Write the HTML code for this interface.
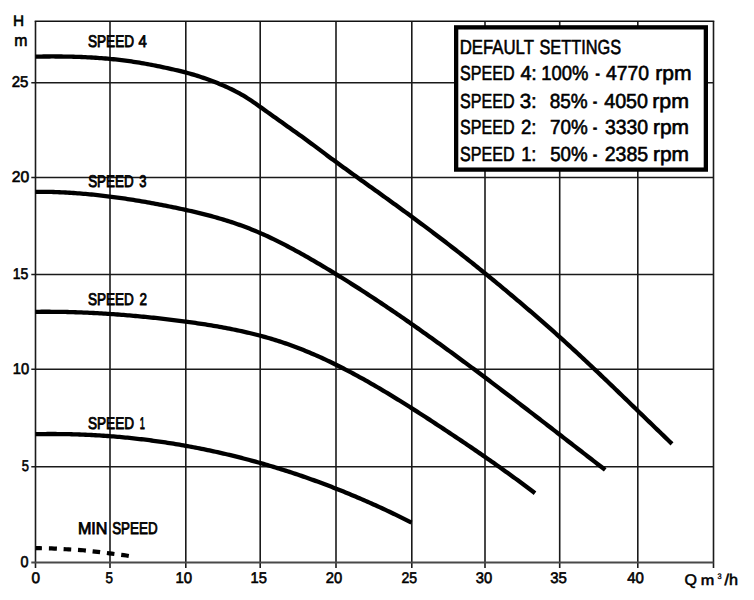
<!DOCTYPE html>
<html><head><meta charset="utf-8"><style>
html,body{margin:0;padding:0;background:#fff;}
svg{display:block;}
text{font-family:"Liberation Sans", sans-serif;fill:#000;stroke:#000;text-rendering:geometricPrecision;}
</style></head><body>
<svg width="754" height="600" viewBox="0 0 754 600">
<rect width="754" height="600" fill="#fff"/>
<line x1="35.50" y1="21.20" x2="35.50" y2="568" stroke="#1a1a1a" stroke-width="1.60"/>
<line x1="110.00" y1="21.20" x2="110.00" y2="568" stroke="#1a1a1a" stroke-width="1.60"/>
<line x1="185.80" y1="21.20" x2="185.80" y2="568" stroke="#1a1a1a" stroke-width="1.60"/>
<line x1="260.20" y1="21.20" x2="260.20" y2="568" stroke="#1a1a1a" stroke-width="1.60"/>
<line x1="336.00" y1="21.20" x2="336.00" y2="568" stroke="#1a1a1a" stroke-width="1.60"/>
<line x1="411.80" y1="21.20" x2="411.80" y2="568" stroke="#1a1a1a" stroke-width="1.60"/>
<line x1="485.00" y1="21.20" x2="485.00" y2="568" stroke="#1a1a1a" stroke-width="1.60"/>
<line x1="559.70" y1="21.20" x2="559.70" y2="568" stroke="#1a1a1a" stroke-width="1.60"/>
<line x1="637.80" y1="21.20" x2="637.80" y2="568" stroke="#1a1a1a" stroke-width="1.60"/>
<line x1="713.50" y1="21.20" x2="713.50" y2="568" stroke="#1a1a1a" stroke-width="1.60"/>
<line x1="31.3" y1="82.70" x2="713.5" y2="82.70" stroke="#1a1a1a" stroke-width="1.6"/>
<line x1="31.3" y1="177.50" x2="713.5" y2="177.50" stroke="#1a1a1a" stroke-width="1.6"/>
<line x1="31.3" y1="274.50" x2="713.5" y2="274.50" stroke="#1a1a1a" stroke-width="1.6"/>
<line x1="31.3" y1="369.30" x2="713.5" y2="369.30" stroke="#1a1a1a" stroke-width="1.6"/>
<line x1="31.3" y1="466.80" x2="713.5" y2="466.80" stroke="#1a1a1a" stroke-width="1.6"/>
<line x1="34.7" y1="21.20" x2="714.3" y2="21.20" stroke="#111" stroke-width="1.6"/>
<line x1="31.3" y1="562.50" x2="713.5" y2="562.50" stroke="#484848" stroke-width="2.1"/>
<path d="M35.50,56.62 L37.50,56.59 L39.50,56.56 L41.50,56.54 L43.50,56.52 L45.50,56.50 L47.50,56.49 L49.50,56.48 L51.50,56.47 L53.50,56.47 L55.50,56.48 L57.50,56.49 L59.50,56.50 L61.50,56.52 L63.50,56.54 L65.50,56.57 L67.50,56.61 L69.50,56.65 L71.50,56.69 L73.50,56.74 L75.50,56.80 L77.50,56.87 L79.50,56.94 L81.50,57.01 L83.50,57.10 L85.50,57.19 L87.50,57.28 L89.50,57.39 L91.50,57.50 L93.50,57.62 L95.50,57.74 L97.50,57.88 L99.50,58.02 L101.50,58.17 L103.50,58.32 L105.50,58.49 L107.50,58.66 L109.50,58.85 L111.50,59.04 L113.50,59.24 L115.50,59.45 L117.50,59.67 L119.50,59.89 L121.50,60.13 L123.50,60.38 L125.50,60.63 L127.50,60.90 L129.50,61.18 L131.50,61.46 L133.50,61.76 L135.50,62.07 L137.50,62.39 L139.50,62.71 L141.50,63.05 L143.50,63.40 L145.50,63.75 L147.50,64.12 L149.50,64.49 L151.50,64.87 L153.50,65.26 L155.50,65.65 L157.50,66.06 L159.50,66.47 L161.50,66.88 L163.50,67.30 L165.50,67.73 L167.50,68.16 L169.50,68.60 L171.50,69.05 L173.50,69.50 L175.50,69.97 L177.50,70.44 L179.50,70.92 L181.50,71.42 L183.50,71.92 L185.50,72.44 L187.50,72.98 L189.50,73.53 L191.50,74.09 L193.50,74.67 L195.50,75.27 L197.50,75.89 L199.50,76.53 L201.50,77.18 L203.50,77.85 L205.50,78.55 L207.50,79.26 L209.50,79.98 L211.50,80.73 L213.50,81.50 L215.50,82.29 L217.50,83.09 L219.50,83.92 L221.50,84.76 L223.50,85.63 L225.50,86.51 L227.50,87.41 L229.50,88.34 L231.50,89.30 L233.50,90.28 L235.50,91.30 L237.50,92.34 L239.50,93.43 L241.50,94.56 L243.50,95.73 L245.50,96.94 L247.50,98.20 L249.50,99.50 L251.50,100.83 L253.50,102.19 L255.50,103.57 L257.50,104.97 L259.50,106.39 L261.50,107.82 L263.50,109.26 L265.50,110.69 L267.50,112.13 L269.50,113.56 L271.50,114.98 L273.50,116.41 L275.50,117.84 L277.50,119.26 L279.50,120.68 L281.50,122.11 L283.50,123.53 L285.50,124.95 L287.50,126.38 L289.50,127.80 L291.50,129.23 L293.50,130.65 L295.50,132.08 L297.50,133.51 L299.50,134.94 L301.50,136.37 L303.50,137.80 L305.50,139.24 L307.50,140.70 L309.50,142.17 L311.50,143.65 L313.50,145.14 L315.50,146.63 L317.50,148.13 L319.50,149.63 L321.50,151.14 L323.50,152.65 L325.50,154.15 L327.50,155.66 L329.50,157.17 L331.50,158.65 L333.50,160.11 L335.50,161.58 L337.50,163.04 L339.50,164.49 L341.50,165.95 L343.50,167.40 L345.50,168.85 L347.50,170.30 L349.50,171.74 L351.50,173.19 L353.50,174.63 L355.50,176.07 L357.50,177.51 L359.50,178.95 L361.50,180.39 L363.50,181.82 L365.50,183.26 L367.50,184.70 L369.50,186.13 L371.50,187.57 L373.50,189.00 L375.50,190.44 L377.50,191.87 L379.50,193.31 L381.50,194.75 L383.50,196.19 L385.50,197.63 L387.50,199.07 L389.50,200.51 L391.50,201.95 L393.50,203.40 L395.50,204.85 L397.50,206.29 L399.50,207.75 L401.50,209.20 L403.50,210.66 L405.50,212.12 L407.50,213.58 L409.50,215.04 L411.50,216.51 L413.50,217.99 L415.50,219.46 L417.50,220.94 L419.50,222.42 L421.50,223.91 L423.50,225.40 L425.50,226.89 L427.50,228.39 L429.50,229.89 L431.50,231.40 L433.50,232.91 L435.50,234.42 L437.50,235.94 L439.50,237.46 L441.50,238.99 L443.50,240.52 L445.50,242.05 L447.50,243.59 L449.50,245.14 L451.50,246.68 L453.50,248.24 L455.50,249.79 L457.50,251.35 L459.50,252.92 L461.50,254.49 L463.50,256.07 L465.50,257.65 L467.50,259.23 L469.50,260.82 L471.50,262.41 L473.50,264.01 L475.50,265.62 L477.50,267.23 L479.50,268.84 L481.50,270.46 L483.50,272.08 L485.50,273.71 L487.50,275.34 L489.50,276.98 L491.50,278.62 L493.50,280.26 L495.50,281.91 L497.50,283.56 L499.50,285.22 L501.50,286.87 L503.50,288.54 L505.50,290.21 L507.50,291.88 L509.50,293.55 L511.50,295.23 L513.50,296.91 L515.50,298.59 L517.50,300.28 L519.50,301.97 L521.50,303.67 L523.50,305.37 L525.50,307.08 L527.50,308.78 L529.50,310.50 L531.50,312.22 L533.50,313.94 L535.50,315.67 L537.50,317.40 L539.50,319.14 L541.50,320.88 L543.50,322.63 L545.50,324.38 L547.50,326.14 L549.50,327.91 L551.50,329.68 L553.50,331.46 L555.50,333.24 L557.50,335.03 L559.50,336.83 L561.50,338.63 L563.50,340.44 L565.50,342.25 L567.50,344.07 L569.50,345.90 L571.50,347.73 L573.50,349.57 L575.50,351.42 L577.50,353.27 L579.50,355.12 L581.50,356.98 L583.50,358.85 L585.50,360.72 L587.50,362.59 L589.50,364.47 L591.50,366.35 L593.50,368.24 L595.50,370.13 L597.50,372.03 L599.50,373.92 L601.50,375.83 L603.50,377.73 L605.50,379.64 L607.50,381.55 L609.50,383.47 L611.50,385.39 L613.50,387.31 L615.50,389.23 L617.50,391.16 L619.50,393.09 L621.50,395.02 L623.50,396.95 L625.50,398.88 L627.50,400.82 L629.50,402.75 L631.50,404.69 L633.50,406.63 L635.50,408.56 L637.50,410.50 L639.50,412.44 L641.50,414.38 L643.50,416.32 L645.50,418.26 L647.50,420.20 L649.50,422.13 L651.50,424.07 L653.50,426.01 L655.50,427.94 L657.50,429.88 L659.50,431.81 L661.50,433.74 L663.50,435.67 L665.50,437.59 L667.50,439.52 L669.50,441.44 L671.50,443.36 L672.00,443.84" fill="none" stroke="#000" stroke-width="4.3" stroke-linecap="butt" stroke-linejoin="round"/>
<path d="M35.50,191.78 L37.50,191.78 L39.50,191.78 L41.50,191.79 L43.50,191.81 L45.50,191.83 L47.50,191.87 L49.50,191.91 L51.50,191.96 L53.50,192.02 L55.50,192.08 L57.50,192.16 L59.50,192.24 L61.50,192.32 L63.50,192.42 L65.50,192.52 L67.50,192.63 L69.50,192.75 L71.50,192.87 L73.50,193.01 L75.50,193.14 L77.50,193.29 L79.50,193.44 L81.50,193.60 L83.50,193.77 L85.50,193.94 L87.50,194.12 L89.50,194.31 L91.50,194.50 L93.50,194.70 L95.50,194.91 L97.50,195.12 L99.50,195.34 L101.50,195.56 L103.50,195.79 L105.50,196.03 L107.50,196.27 L109.50,196.52 L111.50,196.78 L113.50,197.04 L115.50,197.30 L117.50,197.58 L119.50,197.86 L121.50,198.14 L123.50,198.43 L125.50,198.72 L127.50,199.03 L129.50,199.33 L131.50,199.64 L133.50,199.96 L135.50,200.28 L137.50,200.61 L139.50,200.94 L141.50,201.28 L143.50,201.62 L145.50,201.97 L147.50,202.32 L149.50,202.68 L151.50,203.04 L153.50,203.41 L155.50,203.78 L157.50,204.15 L159.50,204.53 L161.50,204.92 L163.50,205.31 L165.50,205.70 L167.50,206.10 L169.50,206.50 L171.50,206.91 L173.50,207.32 L175.50,207.73 L177.50,208.15 L179.50,208.57 L181.50,209.00 L183.50,209.43 L185.50,209.87 L187.50,210.32 L189.50,210.77 L191.50,211.22 L193.50,211.69 L195.50,212.16 L197.50,212.63 L199.50,213.12 L201.50,213.61 L203.50,214.11 L205.50,214.62 L207.50,215.14 L209.50,215.66 L211.50,216.20 L213.50,216.75 L215.50,217.30 L217.50,217.87 L219.50,218.45 L221.50,219.04 L223.50,219.64 L225.50,220.25 L227.50,220.87 L229.50,221.51 L231.50,222.16 L233.50,222.82 L235.50,223.49 L237.50,224.18 L239.50,224.88 L241.50,225.60 L243.50,226.33 L245.50,227.08 L247.50,227.84 L249.50,228.61 L251.50,229.40 L253.50,230.21 L255.50,231.04 L257.50,231.88 L259.50,232.73 L261.50,233.61 L263.50,234.49 L265.50,235.40 L267.50,236.31 L269.50,237.25 L271.50,238.19 L273.50,239.15 L275.50,240.13 L277.50,241.11 L279.50,242.11 L281.50,243.12 L283.50,244.15 L285.50,245.18 L287.50,246.23 L289.50,247.28 L291.50,248.35 L293.50,249.43 L295.50,250.52 L297.50,251.61 L299.50,252.72 L301.50,253.83 L303.50,254.96 L305.50,256.09 L307.50,257.23 L309.50,258.38 L311.50,259.53 L313.50,260.69 L315.50,261.86 L317.50,263.03 L319.50,264.21 L321.50,265.39 L323.50,266.58 L325.50,267.78 L327.50,268.98 L329.50,270.18 L331.50,271.40 L333.50,272.62 L335.50,273.84 L337.50,275.07 L339.50,276.30 L341.50,277.54 L343.50,278.79 L345.50,280.04 L347.50,281.29 L349.50,282.55 L351.50,283.82 L353.50,285.09 L355.50,286.36 L357.50,287.64 L359.50,288.93 L361.50,290.22 L363.50,291.51 L365.50,292.81 L367.50,294.12 L369.50,295.43 L371.50,296.74 L373.50,298.06 L375.50,299.38 L377.50,300.71 L379.50,302.04 L381.50,303.38 L383.50,304.72 L385.50,306.06 L387.50,307.41 L389.50,308.77 L391.50,310.12 L393.50,311.48 L395.50,312.85 L397.50,314.22 L399.50,315.59 L401.50,316.97 L403.50,318.35 L405.50,319.74 L407.50,321.13 L409.50,322.52 L411.50,323.92 L413.50,325.32 L415.50,326.73 L417.50,328.13 L419.50,329.55 L421.50,330.96 L423.50,332.38 L425.50,333.80 L427.50,335.23 L429.50,336.66 L431.50,338.09 L433.50,339.52 L435.50,340.96 L437.50,342.40 L439.50,343.85 L441.50,345.30 L443.50,346.75 L445.50,348.20 L447.50,349.66 L449.50,351.12 L451.50,352.58 L453.50,354.04 L455.50,355.51 L457.50,356.98 L459.50,358.46 L461.50,359.93 L463.50,361.41 L465.50,362.89 L467.50,364.37 L469.50,365.86 L471.50,367.35 L473.50,368.84 L475.50,370.33 L477.50,371.83 L479.50,373.32 L481.50,374.82 L483.50,376.32 L485.50,377.83 L487.50,379.33 L489.50,380.84 L491.50,382.35 L493.50,383.86 L495.50,385.38 L497.50,386.89 L499.50,388.41 L501.50,389.93 L503.50,391.45 L505.50,392.97 L507.50,394.49 L509.50,396.02 L511.50,397.54 L513.50,399.07 L515.50,400.60 L517.50,402.13 L519.50,403.66 L521.50,405.20 L523.50,406.73 L525.50,408.26 L527.50,409.80 L529.50,411.34 L531.50,412.88 L533.50,414.42 L535.50,415.96 L537.50,417.50 L539.50,419.04 L541.50,420.58 L543.50,422.13 L545.50,423.67 L547.50,425.22 L549.50,426.76 L551.50,428.31 L553.50,429.86 L555.50,431.40 L557.50,432.95 L559.50,434.50 L561.50,436.05 L563.50,437.60 L565.50,439.15 L567.50,440.70 L569.50,442.25 L571.50,443.80 L573.50,445.35 L575.50,446.90 L577.50,448.45 L579.50,450.00 L581.50,451.54 L583.50,453.09 L585.50,454.64 L587.50,456.19 L589.50,457.74 L591.50,459.29 L593.50,460.84 L595.50,462.39 L597.50,463.93 L599.50,465.48 L601.50,467.03 L603.50,468.57 L605.20,469.88" fill="none" stroke="#000" stroke-width="4.3" stroke-linecap="butt" stroke-linejoin="round"/>
<path d="M35.50,311.83 L37.50,311.80 L39.50,311.79 L41.50,311.77 L43.50,311.76 L45.50,311.76 L47.50,311.76 L49.50,311.77 L51.50,311.78 L53.50,311.79 L55.50,311.81 L57.50,311.83 L59.50,311.86 L61.50,311.89 L63.50,311.93 L65.50,311.97 L67.50,312.01 L69.50,312.06 L71.50,312.12 L73.50,312.18 L75.50,312.24 L77.50,312.31 L79.50,312.38 L81.50,312.45 L83.50,312.53 L85.50,312.61 L87.50,312.70 L89.50,312.79 L91.50,312.89 L93.50,312.99 L95.50,313.09 L97.50,313.20 L99.50,313.31 L101.50,313.43 L103.50,313.55 L105.50,313.67 L107.50,313.80 L109.50,313.93 L111.50,314.07 L113.50,314.21 L115.50,314.35 L117.50,314.50 L119.50,314.65 L121.50,314.80 L123.50,314.96 L125.50,315.12 L127.50,315.29 L129.50,315.46 L131.50,315.63 L133.50,315.81 L135.50,315.99 L137.50,316.17 L139.50,316.36 L141.50,316.55 L143.50,316.74 L145.50,316.94 L147.50,317.14 L149.50,317.34 L151.50,317.55 L153.50,317.76 L155.50,317.98 L157.50,318.20 L159.50,318.42 L161.50,318.64 L163.50,318.87 L165.50,319.10 L167.50,319.33 L169.50,319.57 L171.50,319.81 L173.50,320.05 L175.50,320.30 L177.50,320.55 L179.50,320.80 L181.50,321.06 L183.50,321.32 L185.50,321.59 L187.50,321.85 L189.50,322.13 L191.50,322.40 L193.50,322.69 L195.50,322.97 L197.50,323.26 L199.50,323.56 L201.50,323.86 L203.50,324.17 L205.50,324.48 L207.50,324.80 L209.50,325.12 L211.50,325.45 L213.50,325.78 L215.50,326.13 L217.50,326.47 L219.50,326.83 L221.50,327.19 L223.50,327.55 L225.50,327.93 L227.50,328.31 L229.50,328.70 L231.50,329.09 L233.50,329.50 L235.50,329.91 L237.50,330.33 L239.50,330.75 L241.50,331.19 L243.50,331.63 L245.50,332.08 L247.50,332.54 L249.50,333.01 L251.50,333.49 L253.50,333.98 L255.50,334.48 L257.50,334.99 L259.50,335.51 L261.50,336.04 L263.50,336.58 L265.50,337.13 L267.50,337.70 L269.50,338.28 L271.50,338.87 L273.50,339.47 L275.50,340.09 L277.50,340.72 L279.50,341.36 L281.50,342.02 L283.50,342.69 L285.50,343.37 L287.50,344.06 L289.50,344.77 L291.50,345.49 L293.50,346.22 L295.50,346.97 L297.50,347.73 L299.50,348.50 L301.50,349.29 L303.50,350.08 L305.50,350.89 L307.50,351.72 L309.50,352.55 L311.50,353.40 L313.50,354.26 L315.50,355.13 L317.50,356.01 L319.50,356.91 L321.50,357.81 L323.50,358.73 L325.50,359.66 L327.50,360.60 L329.50,361.55 L331.50,362.51 L333.50,363.49 L335.50,364.47 L337.50,365.46 L339.50,366.47 L341.50,367.48 L343.50,368.50 L345.50,369.54 L347.50,370.58 L349.50,371.63 L351.50,372.69 L353.50,373.76 L355.50,374.84 L357.50,375.93 L359.50,377.02 L361.50,378.13 L363.50,379.24 L365.50,380.36 L367.50,381.49 L369.50,382.63 L371.50,383.78 L373.50,384.93 L375.50,386.09 L377.50,387.26 L379.50,388.43 L381.50,389.61 L383.50,390.80 L385.50,392.00 L387.50,393.20 L389.50,394.41 L391.50,395.62 L393.50,396.84 L395.50,398.07 L397.50,399.30 L399.50,400.54 L401.50,401.78 L403.50,403.03 L405.50,404.28 L407.50,405.54 L409.50,406.80 L411.50,408.07 L413.50,409.34 L415.50,410.62 L417.50,411.90 L419.50,413.19 L421.50,414.48 L423.50,415.77 L425.50,417.07 L427.50,418.37 L429.50,419.67 L431.50,420.98 L433.50,422.29 L435.50,423.60 L437.50,424.92 L439.50,426.23 L441.50,427.55 L443.50,428.88 L445.50,430.20 L447.50,431.53 L449.50,432.86 L451.50,434.19 L453.50,435.52 L455.50,436.86 L457.50,438.20 L459.50,439.54 L461.50,440.88 L463.50,442.23 L465.50,443.58 L467.50,444.93 L469.50,446.29 L471.50,447.65 L473.50,449.01 L475.50,450.38 L477.50,451.75 L479.50,453.12 L481.50,454.50 L483.50,455.89 L485.50,457.27 L487.50,458.66 L489.50,460.06 L491.50,461.46 L493.50,462.86 L495.50,464.27 L497.50,465.68 L499.50,467.10 L501.50,468.52 L503.50,469.95 L505.50,471.38 L507.50,472.82 L509.50,474.26 L511.50,475.71 L513.50,477.17 L515.50,478.63 L517.50,480.09 L519.50,481.57 L521.50,483.04 L523.50,484.53 L525.50,486.02 L527.50,487.52 L529.50,489.02 L531.50,490.53 L533.50,492.05 L535.00,493.19" fill="none" stroke="#000" stroke-width="4.3" stroke-linecap="butt" stroke-linejoin="round"/>
<path d="M35.50,434.19 L37.50,434.15 L39.50,434.11 L41.50,434.08 L43.50,434.06 L45.50,434.04 L47.50,434.02 L49.50,434.01 L51.50,434.01 L53.50,434.01 L55.50,434.02 L57.50,434.03 L59.50,434.04 L61.50,434.07 L63.50,434.09 L65.50,434.13 L67.50,434.16 L69.50,434.21 L71.50,434.25 L73.50,434.31 L75.50,434.36 L77.50,434.43 L79.50,434.50 L81.50,434.57 L83.50,434.65 L85.50,434.73 L87.50,434.82 L89.50,434.92 L91.50,435.02 L93.50,435.12 L95.50,435.24 L97.50,435.35 L99.50,435.47 L101.50,435.60 L103.50,435.73 L105.50,435.87 L107.50,436.01 L109.50,436.16 L111.50,436.31 L113.50,436.47 L115.50,436.64 L117.50,436.80 L119.50,436.98 L121.50,437.16 L123.50,437.34 L125.50,437.53 L127.50,437.73 L129.50,437.93 L131.50,438.14 L133.50,438.35 L135.50,438.57 L137.50,438.79 L139.50,439.02 L141.50,439.25 L143.50,439.49 L145.50,439.74 L147.50,439.99 L149.50,440.24 L151.50,440.50 L153.50,440.77 L155.50,441.04 L157.50,441.32 L159.50,441.60 L161.50,441.89 L163.50,442.18 L165.50,442.48 L167.50,442.79 L169.50,443.10 L171.50,443.41 L173.50,443.73 L175.50,444.06 L177.50,444.39 L179.50,444.73 L181.50,445.07 L183.50,445.42 L185.50,445.77 L187.50,446.13 L189.50,446.50 L191.50,446.87 L193.50,447.24 L195.50,447.62 L197.50,448.01 L199.50,448.40 L201.50,448.80 L203.50,449.21 L205.50,449.62 L207.50,450.03 L209.50,450.45 L211.50,450.88 L213.50,451.31 L215.50,451.75 L217.50,452.19 L219.50,452.64 L221.50,453.09 L223.50,453.55 L225.50,454.02 L227.50,454.49 L229.50,454.96 L231.50,455.45 L233.50,455.93 L235.50,456.43 L237.50,456.93 L239.50,457.43 L241.50,457.94 L243.50,458.46 L245.50,458.98 L247.50,459.51 L249.50,460.04 L251.50,460.58 L253.50,461.12 L255.50,461.67 L257.50,462.23 L259.50,462.79 L261.50,463.36 L263.50,463.93 L265.50,464.51 L267.50,465.10 L269.50,465.69 L271.50,466.28 L273.50,466.88 L275.50,467.49 L277.50,468.10 L279.50,468.72 L281.50,469.35 L283.50,469.98 L285.50,470.61 L287.50,471.26 L289.50,471.91 L291.50,472.56 L293.50,473.22 L295.50,473.88 L297.50,474.55 L299.50,475.23 L301.50,475.91 L303.50,476.60 L305.50,477.30 L307.50,478.00 L309.50,478.70 L311.50,479.42 L313.50,480.13 L315.50,480.86 L317.50,481.59 L319.50,482.32 L321.50,483.06 L323.50,483.81 L325.50,484.56 L327.50,485.32 L329.50,486.09 L331.50,486.86 L333.50,487.64 L335.50,488.42 L337.50,489.21 L339.50,490.00 L341.50,490.80 L343.50,491.61 L345.50,492.42 L347.50,493.24 L349.50,494.06 L351.50,494.89 L353.50,495.73 L355.50,496.57 L357.50,497.42 L359.50,498.27 L361.50,499.13 L363.50,500.00 L365.50,500.87 L367.50,501.75 L369.50,502.63 L371.50,503.52 L373.50,504.42 L375.50,505.32 L377.50,506.23 L379.50,507.14 L381.50,508.06 L383.50,508.99 L385.50,509.92 L387.50,510.86 L389.50,511.80 L391.50,512.75 L393.50,513.71 L395.50,514.67 L397.50,515.64 L399.50,516.61 L401.50,517.59 L403.50,518.58 L405.50,519.57 L407.50,520.57 L409.50,521.58 L411.50,522.59" fill="none" stroke="#000" stroke-width="4.3" stroke-linecap="butt" stroke-linejoin="round"/>
<path d="M35.80,548.10 L37.83,548.15 L39.87,548.19 L41.90,548.24" fill="none" stroke="#000" stroke-width="4.2" stroke-linecap="butt"/>
<path d="M48.90,548.40 L51.57,548.47 L54.23,548.57 L56.90,548.72" fill="none" stroke="#000" stroke-width="4.2" stroke-linecap="butt"/>
<path d="M63.60,549.09 L66.13,549.23 L68.67,549.37 L71.20,549.51" fill="none" stroke="#000" stroke-width="4.2" stroke-linecap="butt"/>
<path d="M78.00,549.88 L80.63,550.03 L83.27,550.24 L85.90,550.54" fill="none" stroke="#000" stroke-width="4.2" stroke-linecap="butt"/>
<path d="M92.60,551.29 L95.10,551.57 L97.60,551.86 L100.10,552.18" fill="none" stroke="#000" stroke-width="4.2" stroke-linecap="butt"/>
<path d="M106.90,553.03 L109.40,553.35 L111.90,553.66 L114.40,553.98" fill="none" stroke="#000" stroke-width="4.2" stroke-linecap="butt"/>
<path d="M121.20,554.82 L123.73,555.14 L126.27,555.53 L128.80,556.00" fill="none" stroke="#000" stroke-width="4.2" stroke-linecap="butt"/>
<rect x="456.15" y="27.35" width="249.7" height="142.25" fill="#fff" stroke="#000" stroke-width="4.3"/>
<text x="11.70" y="87.20" font-size="15.56" textLength="16.67" lengthAdjust="spacingAndGlyphs" stroke-width="0.60">25</text>
<text x="11.70" y="182.05" font-size="15.56" textLength="17.46" lengthAdjust="spacingAndGlyphs" stroke-width="0.60">20</text>
<text x="12.70" y="279.20" font-size="15.56" textLength="15.61" lengthAdjust="spacingAndGlyphs" stroke-width="0.60">15</text>
<text x="12.70" y="373.90" font-size="15.56" textLength="16.38" lengthAdjust="spacingAndGlyphs" stroke-width="0.60">10</text>
<text x="21.70" y="471.05" font-size="15.56" textLength="7.21" lengthAdjust="spacingAndGlyphs" stroke-width="0.60">5</text>
<text x="20.45" y="566.55" font-size="15.56" textLength="8.00" lengthAdjust="spacingAndGlyphs" stroke-width="0.60">0</text>
<text x="12.95" y="26.15" font-size="15.31" textLength="11.08" lengthAdjust="spacingAndGlyphs" stroke-width="0.60">H</text>
<text x="14.20" y="46.45" font-size="16.53" textLength="13.21" lengthAdjust="spacingAndGlyphs" stroke-width="0.60">m</text>
<text x="31.45" y="583.40" font-size="15.38" textLength="8.53" lengthAdjust="spacingAndGlyphs" stroke-width="0.60">0</text>
<text x="105.45" y="583.40" font-size="15.38" textLength="7.47" lengthAdjust="spacingAndGlyphs" stroke-width="0.60">5</text>
<text x="175.45" y="583.40" font-size="15.38" textLength="16.65" lengthAdjust="spacingAndGlyphs" stroke-width="0.60">10</text>
<text x="250.45" y="583.40" font-size="15.38" textLength="16.39" lengthAdjust="spacingAndGlyphs" stroke-width="0.60">15</text>
<text x="325.70" y="583.40" font-size="15.38" textLength="16.42" lengthAdjust="spacingAndGlyphs" stroke-width="0.60">20</text>
<text x="401.45" y="583.40" font-size="15.38" textLength="15.62" lengthAdjust="spacingAndGlyphs" stroke-width="0.60">25</text>
<text x="475.70" y="583.40" font-size="15.38" textLength="16.43" lengthAdjust="spacingAndGlyphs" stroke-width="0.60">30</text>
<text x="550.20" y="583.40" font-size="15.38" textLength="16.68" lengthAdjust="spacingAndGlyphs" stroke-width="0.60">35</text>
<text x="627.20" y="583.40" font-size="15.38" textLength="16.70" lengthAdjust="spacingAndGlyphs" stroke-width="0.60">40</text>
<text x="684.45" y="584.85" font-size="15.38" textLength="12.45" lengthAdjust="spacingAndGlyphs" stroke-width="0.55">Q</text>
<text x="700.70" y="584.85" font-size="14.15" textLength="13.49" lengthAdjust="spacingAndGlyphs" stroke-width="0.55">m</text>
<text x="717.50" y="578.90" font-size="8.00" textLength="4.10" lengthAdjust="spacingAndGlyphs" stroke-width="0.35">3</text>
<text x="724.45" y="584.85" font-size="15.38" textLength="13.54" lengthAdjust="spacingAndGlyphs" stroke-width="0.55">/h</text>
<text x="87.95" y="47.40" font-size="16.98" textLength="46.15" lengthAdjust="spacingAndGlyphs" stroke-width="0.85">SPEED</text>
<text x="138.45" y="47.40" font-size="16.98" textLength="8.29" lengthAdjust="spacingAndGlyphs" stroke-width="0.85">4</text>
<text x="88.20" y="186.90" font-size="16.98" textLength="45.37" lengthAdjust="spacingAndGlyphs" stroke-width="0.85">SPEED</text>
<text x="139.20" y="186.90" font-size="16.98" textLength="7.22" lengthAdjust="spacingAndGlyphs" stroke-width="0.85">3</text>
<text x="87.95" y="305.40" font-size="16.98" textLength="45.89" lengthAdjust="spacingAndGlyphs" stroke-width="0.85">SPEED</text>
<text x="139.45" y="305.40" font-size="16.98" textLength="7.48" lengthAdjust="spacingAndGlyphs" stroke-width="0.85">2</text>
<text x="87.95" y="429.40" font-size="16.98" textLength="46.15" lengthAdjust="spacingAndGlyphs" stroke-width="0.85">SPEED</text>
<text x="139.70" y="429.40" font-size="16.98" textLength="5.10" lengthAdjust="spacingAndGlyphs" stroke-width="0.85">1</text>
<text x="77.95" y="534.20" font-size="16.98" textLength="29.52" lengthAdjust="spacingAndGlyphs" stroke-width="0.85">MIN</text>
<text x="112.20" y="534.20" font-size="16.98" textLength="45.36" lengthAdjust="spacingAndGlyphs" stroke-width="0.85">SPEED</text>
<text x="459.70" y="54.25" font-size="20.36" textLength="74.28" lengthAdjust="spacingAndGlyphs" stroke-width="0.60">DEFAULT</text>
<text x="539.45" y="54.25" font-size="20.36" textLength="81.67" lengthAdjust="spacingAndGlyphs" stroke-width="0.60">SETTINGS</text>
<text x="459.95" y="80.40" font-size="20.36" textLength="54.57" lengthAdjust="spacingAndGlyphs" stroke-width="0.60">SPEED</text>
<text x="520.45" y="80.40" font-size="20.36" textLength="16.37" lengthAdjust="spacingAndGlyphs" stroke-width="0.60">4:</text>
<text x="541.20" y="80.40" font-size="20.36" textLength="47.17" lengthAdjust="spacingAndGlyphs" stroke-width="0.60">100%</text>
<text x="595.20" y="80.40" font-size="20.36" textLength="4.82" lengthAdjust="spacingAndGlyphs" stroke-width="0.60">-</text>
<text x="605.95" y="80.40" font-size="20.36" textLength="43.00" lengthAdjust="spacingAndGlyphs" stroke-width="0.60">4770</text>
<text x="655.20" y="80.40" font-size="20.36" textLength="36.33" lengthAdjust="spacingAndGlyphs" stroke-width="0.60">rpm</text>
<text x="459.95" y="107.55" font-size="20.36" textLength="54.57" lengthAdjust="spacingAndGlyphs" stroke-width="0.60">SPEED</text>
<text x="519.70" y="107.55" font-size="20.36" textLength="17.14" lengthAdjust="spacingAndGlyphs" stroke-width="0.60">3:</text>
<text x="549.70" y="107.55" font-size="20.36" textLength="37.98" lengthAdjust="spacingAndGlyphs" stroke-width="0.60">85%</text>
<text x="592.70" y="107.55" font-size="20.36" textLength="4.57" lengthAdjust="spacingAndGlyphs" stroke-width="0.60">-</text>
<text x="604.20" y="107.55" font-size="20.36" textLength="43.79" lengthAdjust="spacingAndGlyphs" stroke-width="0.60">4050</text>
<text x="652.20" y="107.55" font-size="20.36" textLength="36.86" lengthAdjust="spacingAndGlyphs" stroke-width="0.60">rpm</text>
<text x="459.95" y="133.55" font-size="20.36" textLength="54.57" lengthAdjust="spacingAndGlyphs" stroke-width="0.60">SPEED</text>
<text x="520.95" y="133.55" font-size="20.36" textLength="15.56" lengthAdjust="spacingAndGlyphs" stroke-width="0.60">2:</text>
<text x="549.95" y="133.55" font-size="20.36" textLength="37.71" lengthAdjust="spacingAndGlyphs" stroke-width="0.60">70%</text>
<text x="592.70" y="133.55" font-size="20.36" textLength="4.57" lengthAdjust="spacingAndGlyphs" stroke-width="0.60">-</text>
<text x="604.95" y="133.55" font-size="20.36" textLength="43.25" lengthAdjust="spacingAndGlyphs" stroke-width="0.60">3330</text>
<text x="652.95" y="133.55" font-size="20.36" textLength="36.08" lengthAdjust="spacingAndGlyphs" stroke-width="0.60">rpm</text>
<text x="459.95" y="160.55" font-size="20.36" textLength="54.57" lengthAdjust="spacingAndGlyphs" stroke-width="0.60">SPEED</text>
<text x="521.20" y="160.55" font-size="20.36" textLength="15.27" lengthAdjust="spacingAndGlyphs" stroke-width="0.60">1:</text>
<text x="550.20" y="160.55" font-size="20.36" textLength="37.46" lengthAdjust="spacingAndGlyphs" stroke-width="0.60">50%</text>
<text x="592.70" y="160.55" font-size="20.36" textLength="4.57" lengthAdjust="spacingAndGlyphs" stroke-width="0.60">-</text>
<text x="604.70" y="160.55" font-size="20.36" textLength="43.50" lengthAdjust="spacingAndGlyphs" stroke-width="0.60">2385</text>
<text x="652.95" y="160.55" font-size="20.36" textLength="36.08" lengthAdjust="spacingAndGlyphs" stroke-width="0.60">rpm</text>
</svg>
</body></html>
